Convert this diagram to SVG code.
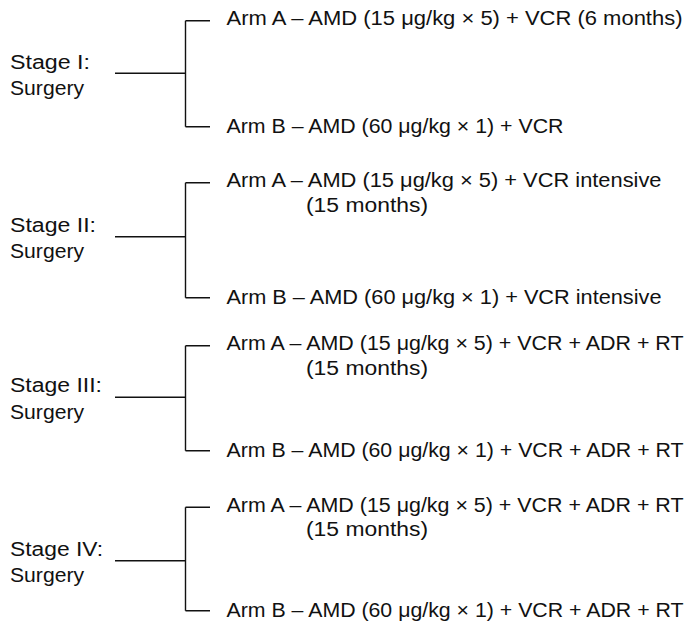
<svg xmlns="http://www.w3.org/2000/svg" width="685" height="628" viewBox="0 0 685 628">
  <style>
    text { font-family: "Liberation Sans", Arial, sans-serif; font-size: 19.5px; fill: #111; }
    .wire { fill: none; stroke: #111; stroke-width: 1.4; }
  </style>
  <rect width="685" height="628" fill="#fff"/>

  <!-- Bracket connectors: stage line, vertical spine, arm ticks -->
  <g id="connectors">
    <path class="wire" d="M115 73.3 H185.5 M185.5 20.7 V126.7 M185.5 20.7 H210 M185.5 126.7 H210"/>
    <path class="wire" d="M115 236.7 H185.5 M185.5 182.7 V297.7 M185.5 182.7 H210 M185.5 297.7 H210"/>
    <path class="wire" d="M115 397.3 H185.5 M185.5 345.7 V450.7 M185.5 345.7 H210 M185.5 450.7 H210"/>
    <path class="wire" d="M115 560.7 H185.5 M185.5 507.3 V610.7 M185.5 507.3 H210 M185.5 610.7 H210"/>
  </g>

  <!-- Stage I -->
  <g id="stage1">
    <text x="10" y="68.5" textLength="80" lengthAdjust="spacingAndGlyphs">Stage I:</text>
    <text x="10" y="95" textLength="74" lengthAdjust="spacingAndGlyphs">Surgery</text>
  </g>
  <g id="stage1-armA">
    <text x="226.5" y="25.2" textLength="456" lengthAdjust="spacingAndGlyphs">Arm A – AMD (15 μg/kg × 5) + VCR (6 months)</text>
  </g>
  <g id="stage1-armB">
    <text x="226.5" y="132.5" textLength="337" lengthAdjust="spacingAndGlyphs">Arm B – AMD (60 μg/kg × 1) + VCR</text>
  </g>

  <!-- Stage II -->
  <g id="stage2">
    <text x="10" y="231.5" textLength="86" lengthAdjust="spacingAndGlyphs">Stage II:</text>
    <text x="10" y="258" textLength="74" lengthAdjust="spacingAndGlyphs">Surgery</text>
  </g>
  <g id="stage2-armA">
    <text x="226.5" y="187.2" textLength="435" lengthAdjust="spacingAndGlyphs">Arm A – AMD (15 μg/kg × 5) + VCR intensive</text>
    <text x="306" y="211.7" textLength="122" lengthAdjust="spacingAndGlyphs">(15 months)</text>
  </g>
  <g id="stage2-armB">
    <text x="226.5" y="303.5" textLength="435" lengthAdjust="spacingAndGlyphs">Arm B – AMD (60 μg/kg × 1) + VCR intensive</text>
  </g>

  <!-- Stage III -->
  <g id="stage3">
    <text x="10" y="392.3" textLength="92" lengthAdjust="spacingAndGlyphs">Stage III:</text>
    <text x="10" y="418.8" textLength="74" lengthAdjust="spacingAndGlyphs">Surgery</text>
  </g>
  <g id="stage3-armA">
    <text x="226.5" y="350.2" textLength="457" lengthAdjust="spacingAndGlyphs">Arm A – AMD (15 μg/kg × 5) + VCR + ADR + RT</text>
    <text x="306" y="374.7" textLength="122" lengthAdjust="spacingAndGlyphs">(15 months)</text>
  </g>
  <g id="stage3-armB">
    <text x="226.5" y="456.7" textLength="457" lengthAdjust="spacingAndGlyphs">Arm B – AMD (60 μg/kg × 1) + VCR + ADR + RT</text>
  </g>

  <!-- Stage IV -->
  <g id="stage4">
    <text x="10" y="555.7" textLength="93" lengthAdjust="spacingAndGlyphs">Stage IV:</text>
    <text x="10" y="582.2" textLength="74" lengthAdjust="spacingAndGlyphs">Surgery</text>
  </g>
  <g id="stage4-armA">
    <text x="226.5" y="511.8" textLength="457" lengthAdjust="spacingAndGlyphs">Arm A – AMD (15 μg/kg × 5) + VCR + ADR + RT</text>
    <text x="306" y="536.3" textLength="122" lengthAdjust="spacingAndGlyphs">(15 months)</text>
  </g>
  <g id="stage4-armB">
    <text x="226.5" y="616.7" textLength="457" lengthAdjust="spacingAndGlyphs">Arm B – AMD (60 μg/kg × 1) + VCR + ADR + RT</text>
  </g>
</svg>
